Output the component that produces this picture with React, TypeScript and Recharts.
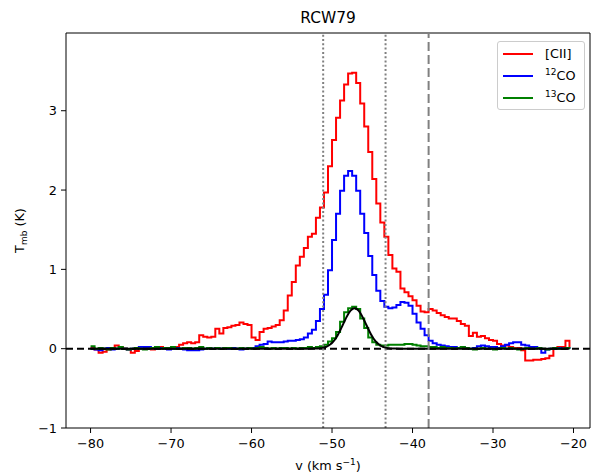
import React from 'react';
import { LineChart, Line, XAxis, YAxis, ReferenceLine } from 'recharts';

// Velocity channels: start and channel width (km/s)
const V_START = -80;
const V_STEP = 0.5;

// [CII] spectrum (K), one value per channel
const cii = [
  0.01, -0.01, -0.05, -0.04, -0.01, 0.0, 0.04, 0.02, 0.0, -0.01,
  -0.05, -0.03, 0.0, 0.01, 0.0, -0.01, 0.01, 0.02, 0.0, 0.01,
  0.0, 0.02, 0.05, 0.07, 0.08, 0.07, 0.08, 0.17, 0.15, 0.14,
  0.15, 0.25, 0.19, 0.26, 0.27, 0.29, 0.3, 0.33, 0.31, 0.3,
  0.14, 0.11, 0.21, 0.25, 0.26, 0.28, 0.3, 0.36, 0.48, 0.67,
  0.84, 1.05, 1.16, 1.27, 1.41, 1.45, 1.65, 1.78, 1.97, 2.3,
  2.63, 2.91, 3.13, 3.33, 3.47, 3.48, 3.35, 3.09, 2.8, 2.48,
  2.14, 1.83, 1.59, 1.41, 1.18, 1.01, 0.97, 0.76, 0.71, 0.66,
  0.61, 0.54, 0.47, 0.46, 0.5, 0.48, 0.45, 0.42, 0.4, 0.38,
  0.38, 0.35, 0.31, 0.29, 0.16, 0.2, 0.15, 0.16, 0.13, 0.11,
  0.1, 0.06, 0.04, 0.04, 0.02, 0.01, 0.01, -0.02, -0.15, -0.15,
  -0.14, -0.14, -0.13, -0.12, -0.09, 0.01, 0.02, 0.02, 0.1, 0.02,
];

// 12CO spectrum (K)
const co12 = [
  0.0, -0.01, -0.02, 0.0, 0.01, -0.01, 0.0, 0.01, 0.0, -0.01,
  0.0, 0.01, 0.02, 0.02, 0.02, 0.01, 0.0, 0.01, 0.0, -0.01,
  0.0, 0.01, 0.0, -0.01, -0.02, -0.02, -0.02, -0.01, 0.0, 0.01,
  0.0, 0.01, 0.0, 0.01, 0.0, 0.01, 0.0, -0.01, 0.0, 0.01,
  0.01, 0.03, 0.05, 0.06, 0.09, 0.08, 0.08, 0.08, 0.09, 0.1,
  0.1, 0.11, 0.12, 0.14, 0.19, 0.24, 0.35, 0.5, 0.68, 0.99,
  1.37, 1.7, 1.99, 2.18, 2.24, 2.18, 1.99, 1.7, 1.46, 1.17,
  0.93, 0.73, 0.6, 0.53, 0.51, 0.52, 0.55, 0.59, 0.58, 0.54,
  0.44, 0.33, 0.25, 0.17, 0.1, 0.07, 0.05, 0.04, 0.03, 0.02,
  0.02, 0.01, 0.02, 0.01, 0.0, 0.01, 0.03, 0.04, 0.03, 0.02,
  0.02, 0.01, 0.03, 0.05, 0.07, 0.08, 0.08, 0.05, 0.04, 0.02,
  0.02, 0.01, -0.05, -0.01, 0.0, 0.0, 0.01, 0.0, 0.01, 0.0,
];

// 13CO spectrum (K)
const co13 = [
  0.03, 0.0, 0.01, 0.0, -0.01, 0.01, 0.0, 0.02, 0.0, -0.01,
  0.0, 0.01, 0.0, -0.01, 0.0, 0.01, 0.02, 0.0, 0.01, 0.01,
  0.02, 0.0, 0.0, 0.01, 0.01, 0.0, 0.01, 0.02, 0.0, 0.01,
  0.0, 0.01, 0.0, 0.01, 0.01, 0.0, 0.0, 0.01, 0.0, 0.01,
  0.0, 0.01, 0.02, 0.01, 0.0, 0.01, 0.0, 0.01, 0.01, 0.0,
  0.01, 0.0, 0.01, 0.01, 0.02, 0.01, 0.02, 0.03, 0.05, 0.09,
  0.13, 0.21, 0.34, 0.46, 0.51, 0.53, 0.5, 0.38, 0.26, 0.14,
  0.08, 0.05, 0.04, 0.04, 0.05, 0.05, 0.05, 0.05, 0.06, 0.06,
  0.05, 0.04, 0.03, 0.03, 0.02, 0.02, 0.01, 0.02, 0.01, 0.01,
  0.0, 0.01, 0.02, 0.01, 0.0, -0.01, 0.0, 0.01, 0.0, 0.0,
  -0.01, 0.0, 0.01, 0.0, 0.01, 0.0, -0.01, 0.0, 0.01, 0.0,
  0.0, 0.01, 0.0, -0.01, 0.0, 0.01, 0.0, 0.0, 0.01, 0.0,
];

// Gaussian fit to 13CO
const fitV = [
  -80, -54, -52.2, -51.7, -51.2, -50.95, -50.7, -50.45, -50.2, -49.95, -49.7, -49.45,
  -49.2, -48.95, -48.7, -48.45, -48.2, -47.95, -47.7, -47.45, -47.2, -46.95, -46.7,
  -46.45, -46.2, -45.95, -45.7, -45.45, -45.2, -44.95, -44.7, -44.45, -44.2, -43.95,
  -43.7, -43.45, -43.2, -42.7, -42.2, -40.4, -20.5,
];
const fitT = [
  0, 0, 0.001, 0.003, 0.01, 0.016, 0.024, 0.037, 0.055, 0.078, 0.108, 0.145,
  0.189, 0.239, 0.292, 0.346, 0.398, 0.444, 0.479, 0.502, 0.51, 0.502, 0.479,
  0.444, 0.398, 0.346, 0.292, 0.239, 0.189, 0.145, 0.108, 0.078, 0.055, 0.037,
  0.024, 0.016, 0.01, 0.003, 0.001, 0, 0,
];

const xTicks = [-80, -70, -60, -50, -40, -30, -20];
const yTicks = [-1, 0, 1, 2, 3];
const dottedMarkers = [-51.1, -43.35];
const dashedMarker = -38.0;

const X_DOMAIN: [number, number] = [-83.05, -17.95];
const Y_DOMAIN: [number, number] = [-1, 3.98];

const FONT = "'DejaVu Sans', Verdana, sans-serif";

const specData = cii.map((c, i) => ({
  v: V_START + V_STEP * i,
  cii: c,
  co12: co12[i],
  co13: co13[i],
}));
const fitData = fitV.map((v, i) => ({ v, t: fitT[i] }));

const fmt = (n: number) => String(n).replace('-', '\u2212');

const XLabel = () => (
  <text x={328} y={470} textAnchor="middle" fontFamily={FONT} fontSize={12.8} fill="#000">
    v (km s
    <tspan dy={-5} fontSize={9}>
      {'\u22121'}
    </tspan>
    <tspan dy={5}>)</tspan>
  </text>
);

const YLabel = () => (
  <text
    x={24}
    y={230.5}
    transform="rotate(-90 24 230.5)"
    textAnchor="middle"
    fontFamily={FONT}
    fontSize={12.8}
    fill="#000"
  >
    T
    <tspan dy={3} fontSize={9}>
      mb
    </tspan>
    <tspan dy={-3}> (K)</tspan>
  </text>
);

const legendItems = [
  { color: '#ff0000', sup: '', label: '[CII]' },
  { color: '#0000ff', sup: '12', label: 'CO' },
  { color: '#008000', sup: '13', label: 'CO' },
];

export default function App() {
  return (
    <div style={{ position: 'absolute', left: 0, top: 0, width: 591, height: 473, background: '#fff' }}>
      <LineChart
        width={591}
        height={473}
        data={specData}
        margin={{ top: 33, right: 1, bottom: 15, left: 8 }}
      >
        <XAxis
          type="number"
          dataKey="v"
          domain={X_DOMAIN}
          allowDataOverflow
          ticks={xTicks}
          interval={0}
          height={30}
          tickSize={5}
          tickMargin={6}
          tickFormatter={fmt}
          axisLine={{ stroke: '#000', strokeWidth: 1 }}
          tickLine={{ stroke: '#000', strokeWidth: 1 }}
          tick={{ fill: '#000', fontSize: 12.8, fontFamily: FONT }}
          label={XLabel}
        />
        <YAxis
          type="number"
          domain={Y_DOMAIN}
          allowDataOverflow
          ticks={yTicks}
          interval={0}
          width={58}
          tickSize={5}
          tickMargin={4}
          tickFormatter={fmt}
          axisLine={{ stroke: '#000', strokeWidth: 1 }}
          tickLine={{ stroke: '#000', strokeWidth: 1 }}
          tick={{ fill: '#000', fontSize: 12.8, fontFamily: FONT }}
          label={YLabel}
        />
        <ReferenceLine x={X_DOMAIN[1]} stroke="#000" strokeWidth={1} />
        <ReferenceLine y={Y_DOMAIN[1]} stroke="#000" strokeWidth={1} />
        <Line dataKey="cii" type="stepAfter" stroke="#ff0000" strokeWidth={2} dot={false} isAnimationActive={false} />
        <Line dataKey="co12" type="stepAfter" stroke="#0000ff" strokeWidth={2} dot={false} isAnimationActive={false} />
        <Line dataKey="co13" type="stepAfter" stroke="#008000" strokeWidth={2} dot={false} isAnimationActive={false} />
        <Line data={fitData} dataKey="t" type="monotone" stroke="#000" strokeWidth={2} dot={false} isAnimationActive={false} />
        <ReferenceLine y={0} stroke="#000" strokeWidth={2} strokeDasharray="7 4" />
        {dottedMarkers.map((m) => (
          <ReferenceLine key={m} x={m} stroke="#808080" strokeWidth={2} strokeDasharray="2 2.3" />
        ))}
        <ReferenceLine x={dashedMarker} stroke="#808080" strokeWidth={2} strokeDasharray="9 4" />
      </LineChart>

      <div
        style={{
          position: 'absolute',
          left: 0,
          width: 656,
          top: 9,
          textAlign: 'center',
          fontFamily: FONT,
          fontSize: 15.4,
          lineHeight: '18px',
          color: '#000',
        }}
      >
        RCW79
      </div>

      <div
        style={{
          position: 'absolute',
          left: 497,
          top: 41,
          width: 88,
          height: 69,
          border: '1px solid #cccccc',
          borderRadius: 3,
          background: 'rgba(255,255,255,0.8)',
          boxSizing: 'border-box',
          fontFamily: FONT,
          fontSize: 12.8,
          color: '#000',
        }}
      >
        {legendItems.map((it, i) => (
          <div key={i} style={{ position: 'absolute', left: 0, top: 3 + 22 * i, width: 86, height: 18 }}>
            <div
              style={{
                position: 'absolute',
                left: 5,
                top: 8,
                width: 30,
                height: 2,
                background: it.color,
              }}
            />
            <div style={{ position: 'absolute', left: 47, top: 0, lineHeight: '18px', whiteSpace: 'nowrap' }}>
              {it.sup ? (
                <span style={{ fontSize: 9, position: 'relative', top: -5 }}>{it.sup}</span>
              ) : null}
              {it.label}
            </div>
          </div>
        ))}
      </div>
    </div>
  );
}
